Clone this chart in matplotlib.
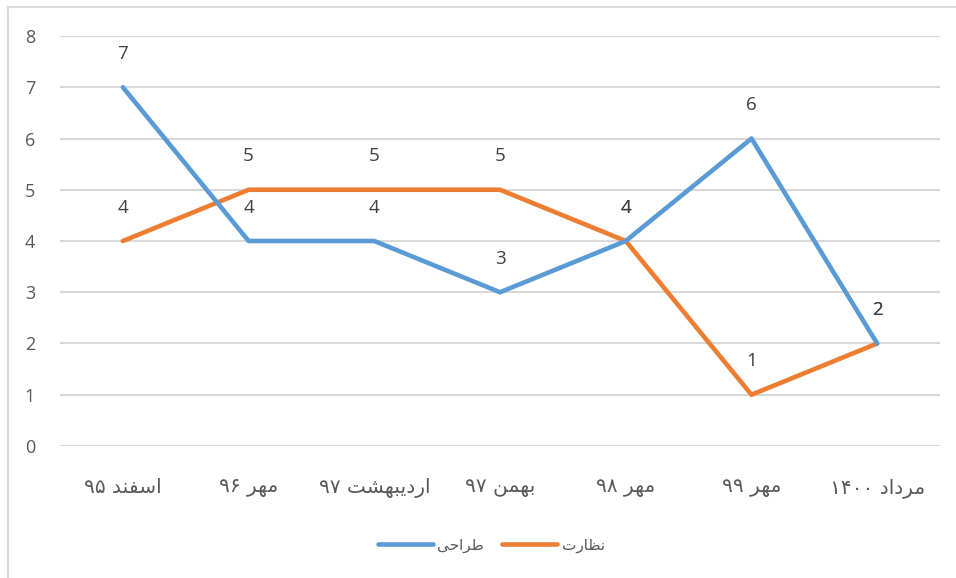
import matplotlib
matplotlib.use("Agg")
import matplotlib.pyplot as plt
from matplotlib.lines import Line2D

# data
months = ["اسفند ۹۵", "مهر ۹۶", "اردیبهشت ۹۷", "بهمن ۹۷", "مهر ۹۸", "مهر ۹۹", "مرداد ۱۴۰۰"]
design = [7, 4, 4, 3, 4, 6, 2]       # طراحی
supervision = [4, 5, 5, 5, 4, 1, 2]  # نظارت
series_names = ["طراحی", "نظارت"]

# presentation forms: isolated, final, initial, medial (None = right-joining only)
FORMS = {
    "ا": ("\uFE8D", "\uFE8E", None, None),
    "ب": ("\uFE8F", "\uFE90", "\uFE91", "\uFE92"),
    "ت": ("\uFE95", "\uFE96", "\uFE97", "\uFE98"),
    "ح": ("\uFEA1", "\uFEA2", "\uFEA3", "\uFEA4"),
    "د": ("\uFEA9", "\uFEAA", None, None),
    "ر": ("\uFEAD", "\uFEAE", None, None),
    "س": ("\uFEB1", "\uFEB2", "\uFEB3", "\uFEB4"),
    "ش": ("\uFEB5", "\uFEB6", "\uFEB7", "\uFEB8"),
    "ط": ("\uFEC1", "\uFEC2", "\uFEC3", "\uFEC4"),
    "ظ": ("\uFEC5", "\uFEC6", "\uFEC7", "\uFEC8"),
    "ف": ("\uFED1", "\uFED2", "\uFED3", "\uFED4"),
    "م": ("\uFEE1", "\uFEE2", "\uFEE3", "\uFEE4"),
    "ن": ("\uFEE5", "\uFEE6", "\uFEE7", "\uFEE8"),
    "ه": ("\uFEE9", "\uFEEA", "\uFEEB", "\uFEEC"),
    "ی": ("\uFBFC", "\uFBFD", "\uFBFE", "\uFBFF"),
}


def shape_word(word):
    out = []
    for i, ch in enumerate(word):
        forms = FORMS.get(ch)
        if forms is None:
            out.append(ch)
            continue
        prev = word[i - 1] if i > 0 else None
        nxt = word[i + 1] if i + 1 < len(word) else None
        joins_prev = prev in FORMS and FORMS[prev][2] is not None
        joins_next = forms[2] is not None and nxt in FORMS
        if joins_prev and joins_next:
            out.append(forms[3])
        elif joins_prev:
            out.append(forms[1])
        elif joins_next:
            out.append(forms[2])
        else:
            out.append(forms[0])
    return "".join(out)


def rtl(text):
    # shape letters, then lay tokens right-to-left; digit runs stay left-to-right
    tokens = text.split(" ")
    vis = []
    for tok in tokens:
        if tok and tok[0] in FORMS:
            vis.append(shape_word(tok)[::-1])
        else:
            vis.append(tok)
    return " ".join(vis[::-1])


blue = "#5B9BD5"
orange = "#ED7D31"
grid_c = "#D9D9D9"
label_c = "#595959"
value_c = "#404040"

fig = plt.figure(figsize=(9.56, 5.78), dpi=100)
ax = fig.add_axes([0.0628, 0.2284, 0.9205, 0.7093])

x = list(range(len(months)))
ax.plot(x, supervision, color=orange, lw=3.3, solid_joinstyle="round",
        solid_capstyle="round", zorder=3)
ax.plot(x, design, color=blue, lw=3.3, solid_joinstyle="round",
        solid_capstyle="round", zorder=3)

for series in (design, supervision):
    for xi, v in zip(x, series):
        ax.annotate(str(v), (xi, v), xytext=(0, 24), textcoords="offset points",
                    ha="center", va="center", fontsize=13.5, color=value_c,
                    family="Open Sans")

ax.set_xlim(-0.5, len(months) - 0.5)
ax.set_ylim(0, 8)
ax.set_yticks(range(0, 9))
ax.set_xticks(x)
ax.set_xticklabels([rtl(m) for m in months], family="DejaVu Sans",
                   fontsize=14.5, color=label_c)
for t in ax.get_yticklabels():
    t.set_family("Open Sans")
    t.set_fontsize(13)
    t.set_color(label_c)

ax.yaxis.grid(True, color=grid_c, lw=1.5)
ax.set_axisbelow(True)
ax.tick_params(axis="both", length=0)
ax.tick_params(axis="y", pad=18)
ax.tick_params(axis="x", pad=23)
for s in ax.spines.values():
    s.set_visible(False)

handles = [Line2D([], [], color=blue, lw=3.3, solid_capstyle="round"),
           Line2D([], [], color=orange, lw=3.3, solid_capstyle="round")]
leg = fig.legend(handles, [rtl(n) for n in series_names], loc="center",
                 bbox_to_anchor=(0.514, 0.057), ncol=2, frameon=False,
                 prop={"family": "DejaVu Sans", "size": 11},
                 handlelength=3.6, handletextpad=0.3, columnspacing=1.2)
for t in leg.get_texts():
    t.set_color(label_c)

# chart border (left and top edges)
fig.add_artist(Line2D([0.0085, 0.0085], [0, 0.988], color=grid_c, lw=1.5,
                      transform=fig.transFigure))
fig.add_artist(Line2D([0.0085, 1], [0.988, 0.988], color=grid_c, lw=1.5,
                      transform=fig.transFigure))

fig.savefig("out.png", dpi=100, facecolor="white")
